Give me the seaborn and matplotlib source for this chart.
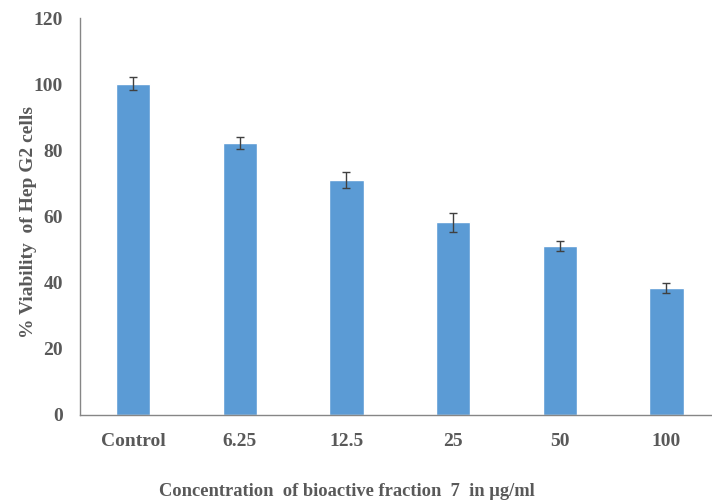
import matplotlib
matplotlib.use("Agg")
import matplotlib.pyplot as plt
import seaborn as sns
import pandas as pd
import numpy as np

categories = ["Control", "6.25", "12.5", "25", "50", "100"]
viability = [100.2, 82.2, 71.0, 58.2, 51.0, 38.4]
errors = [2.0, 1.8, 2.5, 3.0, 1.5, 1.5]
yticks = [0, 20, 40, 60, 80, 100, 120]

sns.set_theme(style="white")
plt.rcParams['font.family'] = ['Liberation Serif', 'DejaVu Serif']

df = pd.DataFrame({"conc": categories, "viab": viability})

fig = plt.figure(figsize=(7.12, 5.04), dpi=100)
ax = fig.add_axes([0.112, 0.177, 0.899, 0.787])

sns.barplot(data=df, x="conc", y="viab", color="#5B9BD5", saturation=1,
            width=0.32, errorbar=None, ax=ax)
ax.errorbar(np.arange(len(categories)), viability, yerr=errors, fmt="none",
            ecolor="#404040", elinewidth=1.0, capsize=3, capthick=1.0)

ax.set_ylim(0, 120)
ax.set_xlim(-0.5, 5.5)
ax.set_yticks(yticks)
ax.set_yticklabels([str(t) for t in yticks])
txtc = "#595959"
ax.tick_params(axis="both", length=0, labelsize=14, colors=txtc)
for lab in ax.get_xticklabels() + ax.get_yticklabels():
    lab.set_fontweight("bold")
ax.tick_params(axis="y", pad=12)
ax.tick_params(axis="x", pad=13)

for s in ["top", "right"]:
    ax.spines[s].set_visible(False)
for s in ["left", "bottom"]:
    ax.spines[s].set_color("#868686")
    ax.spines[s].set_linewidth(1.0)

ax.set_ylabel("")
ax.set_xlabel("")
fig.text(29 / 712, 1 - 222 / 504, "% Viability  of Hep G2 cells", fontsize=14,
         fontweight="bold", color=txtc, rotation=90, ha="center", va="center")
fig.text(347 / 712, 1 - 492 / 504, "Concentration  of bioactive fraction  7  in \u00b5g/ml",
         fontsize=13.3, fontweight="bold", color=txtc, ha="center", va="center")

fig.savefig("out.png", dpi=100)
